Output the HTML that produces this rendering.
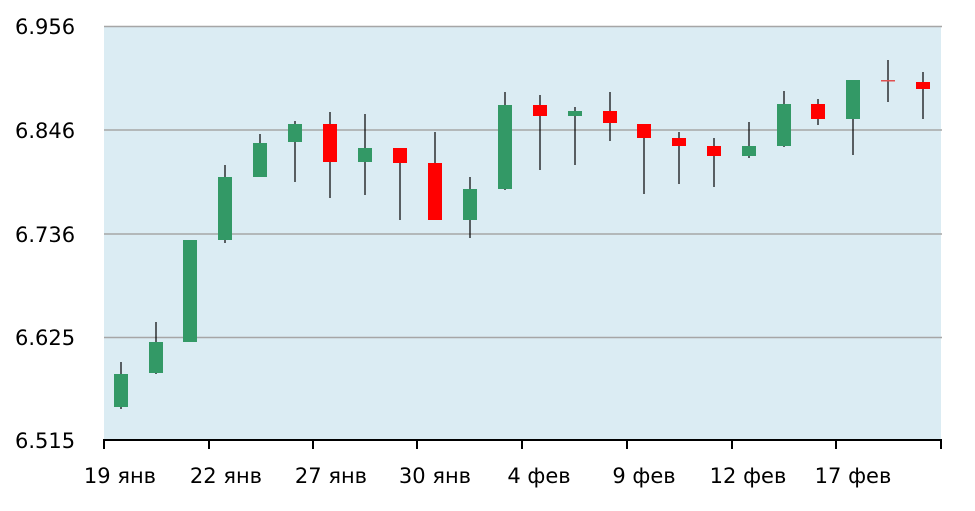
<!DOCTYPE html>
<html><head><meta charset="utf-8"><style>
html,body{margin:0;padding:0;background:#fff;}
svg text{font-family:"DejaVu Sans","Liberation Sans",sans-serif;font-size:21px;fill:#000;}
</style></head><body>
<svg width="975" height="506" viewBox="0 0 975 506" xmlns="http://www.w3.org/2000/svg">
<rect x="104" y="26" width="837" height="414" fill="#dbecf3"/>
<g stroke="#a6a6a6" stroke-width="1.5">
<line x1="104" y1="26.5" x2="942" y2="26.5"/>
<line x1="104" y1="130" x2="942" y2="130"/>
<line x1="104" y1="234" x2="942" y2="234"/>
<line x1="104" y1="337.5" x2="942" y2="337.5"/>
</g>
<g stroke="#000" stroke-width="1.2">
<line x1="121" y1="362" x2="121" y2="409"/>
<line x1="156" y1="322" x2="156" y2="374"/>
<line x1="225" y1="165" x2="225" y2="243"/>
<line x1="260" y1="134" x2="260" y2="177"/>
<line x1="295" y1="121" x2="295" y2="182"/>
<line x1="330" y1="112" x2="330" y2="198"/>
<line x1="365" y1="114" x2="365" y2="195"/>
<line x1="400" y1="148" x2="400" y2="220"/>
<line x1="435" y1="132" x2="435" y2="220"/>
<line x1="470" y1="177" x2="470" y2="238"/>
<line x1="505" y1="92" x2="505" y2="190"/>
<line x1="540" y1="95" x2="540" y2="170"/>
<line x1="575" y1="107" x2="575" y2="165"/>
<line x1="610" y1="92" x2="610" y2="141"/>
<line x1="644" y1="124" x2="644" y2="194"/>
<line x1="679" y1="132" x2="679" y2="184"/>
<line x1="714" y1="138" x2="714" y2="187"/>
<line x1="749" y1="122" x2="749" y2="158"/>
<line x1="784" y1="91" x2="784" y2="147"/>
<line x1="818" y1="99" x2="818" y2="125"/>
<line x1="853" y1="119" x2="853" y2="155"/>
<line x1="888" y1="60" x2="888" y2="102"/>
<line x1="923" y1="72" x2="923" y2="119"/>
</g>
<g fill="#339966">
<rect x="114" y="374" width="14" height="33"/>
<rect x="149" y="342" width="14" height="31"/>
<rect x="183" y="240" width="14" height="102"/>
<rect x="218" y="177" width="14" height="63"/>
<rect x="253" y="143" width="14" height="34"/>
<rect x="288" y="124" width="14" height="18"/>
<rect x="358" y="148" width="14" height="14"/>
<rect x="463" y="189" width="14" height="31"/>
<rect x="498" y="105" width="14" height="84"/>
<rect x="568" y="111" width="14" height="5"/>
<rect x="742" y="146" width="14" height="10"/>
<rect x="777" y="104" width="14" height="42"/>
<rect x="846" y="80" width="14" height="39"/>
</g>
<g fill="#ff0000">
<rect x="323" y="124" width="14" height="38"/>
<rect x="393" y="148" width="14" height="15"/>
<rect x="428" y="163" width="14" height="57"/>
<rect x="533" y="105" width="14" height="11"/>
<rect x="603" y="111" width="14" height="12"/>
<rect x="637" y="124" width="14" height="14"/>
<rect x="672" y="138" width="14" height="8"/>
<rect x="707" y="146" width="14" height="10"/>
<rect x="811" y="104" width="14" height="15"/>
<rect x="916" y="82" width="14" height="7"/>
<rect x="881" y="80" width="14" height="1.5" fill="#e05050"/>
</g>
<g stroke="#000" stroke-width="2">
<line x1="103" y1="440" x2="942" y2="440"/>
<line x1="104" y1="440" x2="104" y2="449"/>
<line x1="209" y1="440" x2="209" y2="449"/>
<line x1="313" y1="440" x2="313" y2="449"/>
<line x1="417" y1="440" x2="417" y2="449"/>
<line x1="522" y1="440" x2="522" y2="449"/>
<line x1="627" y1="440" x2="627" y2="449"/>
<line x1="732" y1="440" x2="732" y2="449"/>
<line x1="836" y1="440" x2="836" y2="449"/>
<line x1="941" y1="440" x2="941" y2="449"/>
</g>
<g>
<text x="15" y="34">6.956</text>
<text x="15" y="138">6.846</text>
<text x="15" y="242">6.736</text>
<text x="15" y="345">6.625</text>
<text x="15" y="448">6.515</text>
</g>
<g text-anchor="middle">
<text x="120" y="483">19 янв</text>
<text x="226" y="483">22 янв</text>
<text x="331" y="483">27 янв</text>
<text x="435" y="483">30 янв</text>
<text x="539" y="483">4 фев</text>
<text x="644" y="483">9 фев</text>
<text x="748" y="483">12 фев</text>
<text x="853" y="483">17 фев</text>
</g>
</svg>
</body></html>
